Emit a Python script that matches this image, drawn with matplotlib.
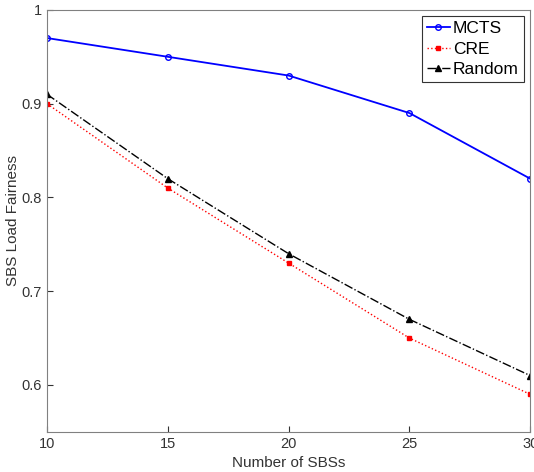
import numpy as np
import matplotlib.pyplot as plt

# Data
sbs = [10, 15, 20, 25, 30]
mcts = [0.97, 0.95, 0.93, 0.89, 0.82]
cre = [0.90, 0.81, 0.73, 0.65, 0.59]
rnd = [0.91, 0.82, 0.74, 0.67, 0.61]

plt.rcParams['font.family'] = ['Liberation Sans', 'DejaVu Sans']

fig = plt.figure(figsize=(5.34, 4.72), dpi=100)
ax = fig.add_axes([0.088, 0.085, 0.905, 0.894])

ax.plot(sbs, mcts, 'b-o', label='MCTS', markersize=4, markerfacecolor='none', linewidth=1.3)
ax.plot(sbs, cre, 'r:s', label='CRE', markersize=3.5, markerfacecolor='r', linewidth=1.0)
ax.plot(sbs, rnd, 'k-.^', label='Random', markersize=4, markerfacecolor='k', linewidth=1.0)

ax.set_xlim(10, 30)
ax.set_ylim(0.55, 1.0)
ax.set_xticks([10, 15, 20, 25, 30])
ax.set_yticks([0.6, 0.7, 0.8, 0.9, 1.0])
ax.set_yticklabels(['0.6', '0.7', '0.8', '0.9', '1'])
ax.tick_params(direction='in', length=4, colors='#333333', labelsize=10.5, top=False, right=False)
for s in ax.spines.values():
    s.set_color('#808080')
    s.set_linewidth(0.8)

ax.set_xlabel('Number of SBSs', fontsize=11, color='#333333')
ax.set_ylabel('SBS Load Fairness', fontsize=11, color='#333333')
ax.yaxis.set_label_coords(-0.055, 0.5)

leg = ax.legend(loc='upper right', fontsize=12.5, fancybox=False, framealpha=1,
                handlelength=1.3, handletextpad=0.2, borderpad=0.3, labelspacing=0.3,
                borderaxespad=0.35)
leg.get_frame().set_edgecolor('#333333')
leg.get_frame().set_linewidth(0.8)

plt.savefig('out.png', dpi=100)
